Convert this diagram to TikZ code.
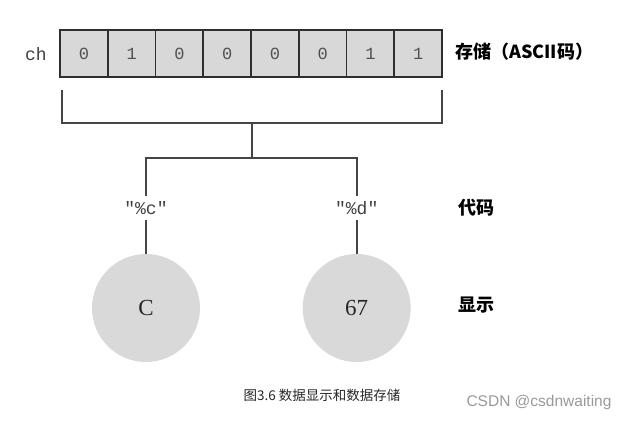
\documentclass[tikz,border=0pt]{standalone}
\usepackage{fontspec}
\setmainfont{Liberation Serif}
\setmonofont{Liberation Mono}
\setsansfont{Liberation Sans}
\newfontfamily\cjk{Noto Sans CJK SC}
\definecolor{cellfill}{HTML}{D8D8D8}
\definecolor{circfill}{HTML}{D9D9D9}
\definecolor{boxline}{HTML}{2E2E2E}
\definecolor{bline}{HTML}{454545}
\definecolor{digit}{HTML}{505050}
\tikzset{
  cell/.style={draw=boxline, line width=1.8pt, fill=cellfill, minimum width=47.75pt, minimum height=47.5pt, inner sep=0pt, font=\ttfamily\fontsize{17}{17}\selectfont, text=digit},
  disp/.style={circle, fill=circfill, minimum size=108pt, inner sep=0pt, font=\fontsize{23}{23}\selectfont, text=black!85},
  fmt/.style={font=\ttfamily\fontsize{18}{18}\selectfont, text=black!75, inner sep=5pt},
  side/.style={font=\cjk\bfseries\fontsize{18}{18}\selectfont, anchor=west, inner sep=0pt},
  conn/.style={draw=bline, line width=1.8pt}
}
\begin{document}
\begin{tikzpicture}[x=1pt,y=-1pt]
\useasboundingbox (0,0) rectangle (629,421);
\foreach \i/\v in {0/0,1/1,2/0,3/0,4/0,5/0,6/1,7/1}{
  \node[cell] (c\i) at ({60+47.75*(\i+0.5)},53.5) {\v};
}
\node[font=\ttfamily\fontsize{18}{18}\selectfont, text=black!75] (ch) at (36,54) {ch};
\node[side] (lstore) at (455,52) {存储（ASCII码）};
\node[side] (lcode) at (458,208) {代码};
\node[side] (lshow) at (458,305) {显示};
\node[fmt] (fc) at (146,208) {"\%c"};
\node[fmt] (fd) at (356.7,208) {"\%d"};
\node[disp] (dc) at (146,308) {C};
\node[disp] (dd) at (356.7,308) {67};
\coordinate (bl) at (62,90);
\coordinate (br) at (441.7,90);
\coordinate (top) at (251.7,123);
\coordinate (j) at (251.7,158);
\draw[conn] (bl) |- (top) -| (br);
\draw[conn] (top) -- (j);
\draw[conn] (fc.north) |- (j) -| (fd.north);
\draw[conn] (fc.south) -- (dc.north);
\draw[conn] (fd.south) -- (dd.north);
\node[font=\cjk\fontsize{13.5}{13.5}\selectfont, text=black!85] (cap) at (322,395) {图3.6 数据显示和数据存储};
\node[font=\sffamily\fontsize{15.5}{15.5}\selectfont, text=black!40] (wm) at (539,402) {CSDN @csdnwaiting};
\end{tikzpicture}
\end{document}
